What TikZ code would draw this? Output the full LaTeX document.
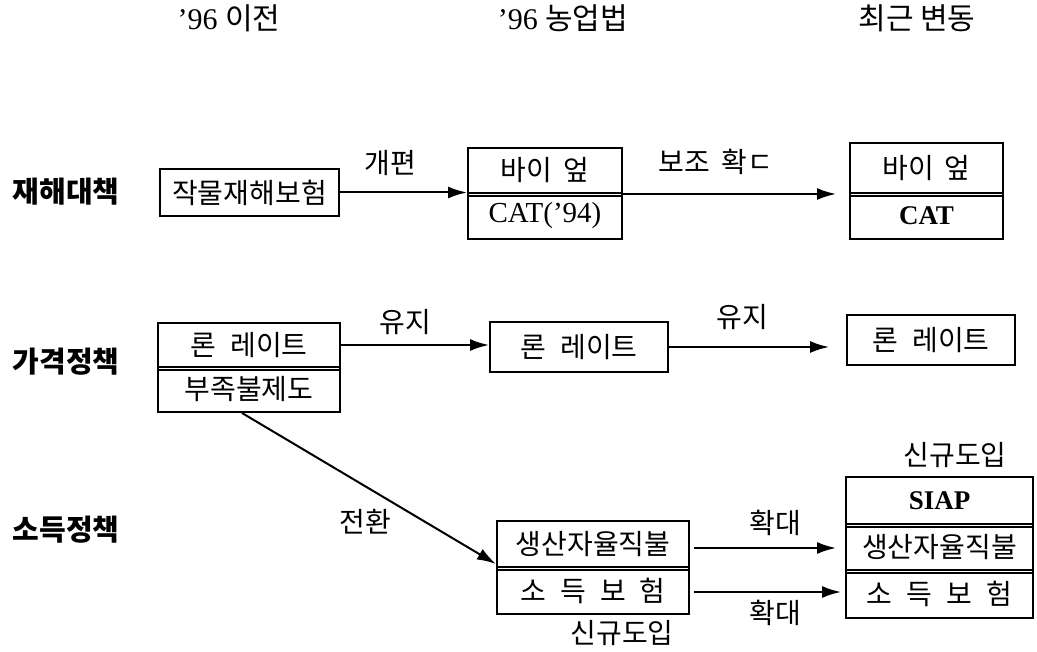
\documentclass[tikz,border=0pt]{standalone}
\usepackage{fontspec}
\setmainfont{Liberation Serif}
\newfontfamily\kr{Noto Sans CJK KR}
\usetikzlibrary{arrows.meta,calc}
\begin{document}
\begin{tikzpicture}[x=1pt,y=-1pt,
  box/.style={draw,line width=2pt,inner sep=0pt,anchor=center,font=\kr\fontsize{28}{28}\selectfont},
  lab/.style={inner sep=0pt,anchor=center,font=\kr\fontsize{28}{28}\selectfont},
  rowlab/.style={inner sep=0pt,anchor=center,font=\kr\bfseries\fontsize{29}{29}\selectfont},
  head/.style={inner sep=0pt,anchor=center,font=\fontsize{30}{30}\selectfont},
  latin/.style={font=\fontsize{29}{29}\selectfont},
  latinb/.style={font=\bfseries\fontsize{27}{27}\selectfont},
  arr/.style={line width=2pt,-{Latex[length=19pt,width=12pt]}},
  dbl/.style={line width=1.4pt},
]
\useasboundingbox (0,0) rectangle (1037,652);

% headers
\node[head] (h1) at (229,18) {’96 {\kr 이전}};
\node[head] (h2) at (563,18) {’96 {\kr 농업법}};
\node[head] (h3) at (917,18) {\kr 최근 변동};

% row labels
\node[rowlab] (r1) at (66,192) {재해대책};
\node[rowlab] (r2) at (66,362) {가격정책};
\node[rowlab] (r3) at (66,530) {소득정책};

% row 1
\node[box,minimum width=179pt,minimum height=47pt] (A1) at (249.5,192.5) {작물재해보험};
\node[box,minimum width=154pt,minimum height=45pt] (B1t) at (545,170.5) {바이\hspace{0.4em}엎};
\node[box,minimum width=154pt,minimum height=46pt,latin] (B1b) at (545,216) {CAT(’94)};
\draw[dbl] ($(B1b.north west)+(0,4)$) -- ($(B1b.north east)+(0,4)$);
\node[box,minimum width=153pt,minimum height=50pt] (C1t) at (926.5,168) {바이\hspace{0.4em}엎};
\node[box,minimum width=153pt,minimum height=46pt,latinb] (C1b) at (926.5,216) {CAT};
\draw[dbl] ($(C1b.north west)+(0,4)$) -- ($(C1b.north east)+(0,4)$);

\draw[arr] (A1.east) -- (A1.east -| B1t.west);
\draw[arr,shorten >=13pt] (B1t.south east) -- (C1t.south west);
\node[lab] (l1) at (390,163) {개편};
\node[lab] (l2) at (716,162) {보조\hspace{0.4em}확ㄷ};

% row 2
\node[box,minimum width=182pt,minimum height=44pt] (A2t) at (249,345) {론\hspace{0.5em}레이트};
\node[box,minimum width=182pt,minimum height=45pt] (A2b) at (249,389.5) {부족불제도};
\draw[dbl] ($(A2b.north west)+(0,4)$) -- ($(A2b.north east)+(0,4)$);
\node[box,minimum width=178pt,minimum height=50pt] (B2) at (579,347) {론\hspace{0.5em}레이트};
\node[box,minimum width=168pt,minimum height=50pt] (C2) at (931,340) {론\hspace{0.5em}레이트};

\draw[arr] (A2t.east) -- (A2t.east -| B2.west);
\draw[arr,shorten >=17pt] (B2.east) -- (B2.east -| C2.west);
\node[lab] (l3) at (405,322) {유지};
\node[lab] (l4) at (742,317) {유지};

% row 3
\node[box,minimum width=192pt,minimum height=46pt] (B3t) at (593,544) {생산자율직불};
\node[box,minimum width=192pt,minimum height=47pt] (B3b) at (593,590.5) {소\hspace{0.5em}득\hspace{0.5em}보\hspace{0.5em}험};
\draw[dbl] ($(B3b.north west)+(0,4)$) -- ($(B3b.north east)+(0,4)$);
\node[box,minimum width=187pt,minimum height=47pt,latinb] (C3a) at (939.5,500.5) {SIAP};
\node[box,minimum width=187pt,minimum height=46pt] (C3b) at (939.5,547) {생산자율직불};
\draw[dbl] ($(C3b.north west)+(0,4)$) -- ($(C3b.north east)+(0,4)$);
\node[box,minimum width=187pt,minimum height=48pt] (C3c) at (939.5,594) {소\hspace{0.5em}득\hspace{0.5em}보\hspace{0.5em}험};
\draw[dbl] ($(C3c.north west)+(0,4)$) -- ($(C3c.north east)+(0,4)$);

\draw[arr] ($(A2b.south)+(-7,0)$) -- ($(B3t.south west)+(0,-4)$);
\draw[arr,shorten <=4pt,shorten >=9pt] ($(B3t.east)+(0,4)$) -- ($(B3t.east -| C3b.west)+(0,4)$);
\draw[arr,shorten <=4pt,shorten >=4pt] ($(B3b.east)+(0,1.5)$) -- ($(B3b.east -| C3c.west)+(0,1.5)$);
\node[lab] (l5) at (365,522) {전환};
\node[lab] (l6) at (775,523) {확대};
\node[lab] (l7) at (775,613) {확대};
\node[lab] (l8) at (622,633) {신규도입};
\node[lab] (l9) at (955,455) {신규도입};
\end{tikzpicture}
\end{document}
